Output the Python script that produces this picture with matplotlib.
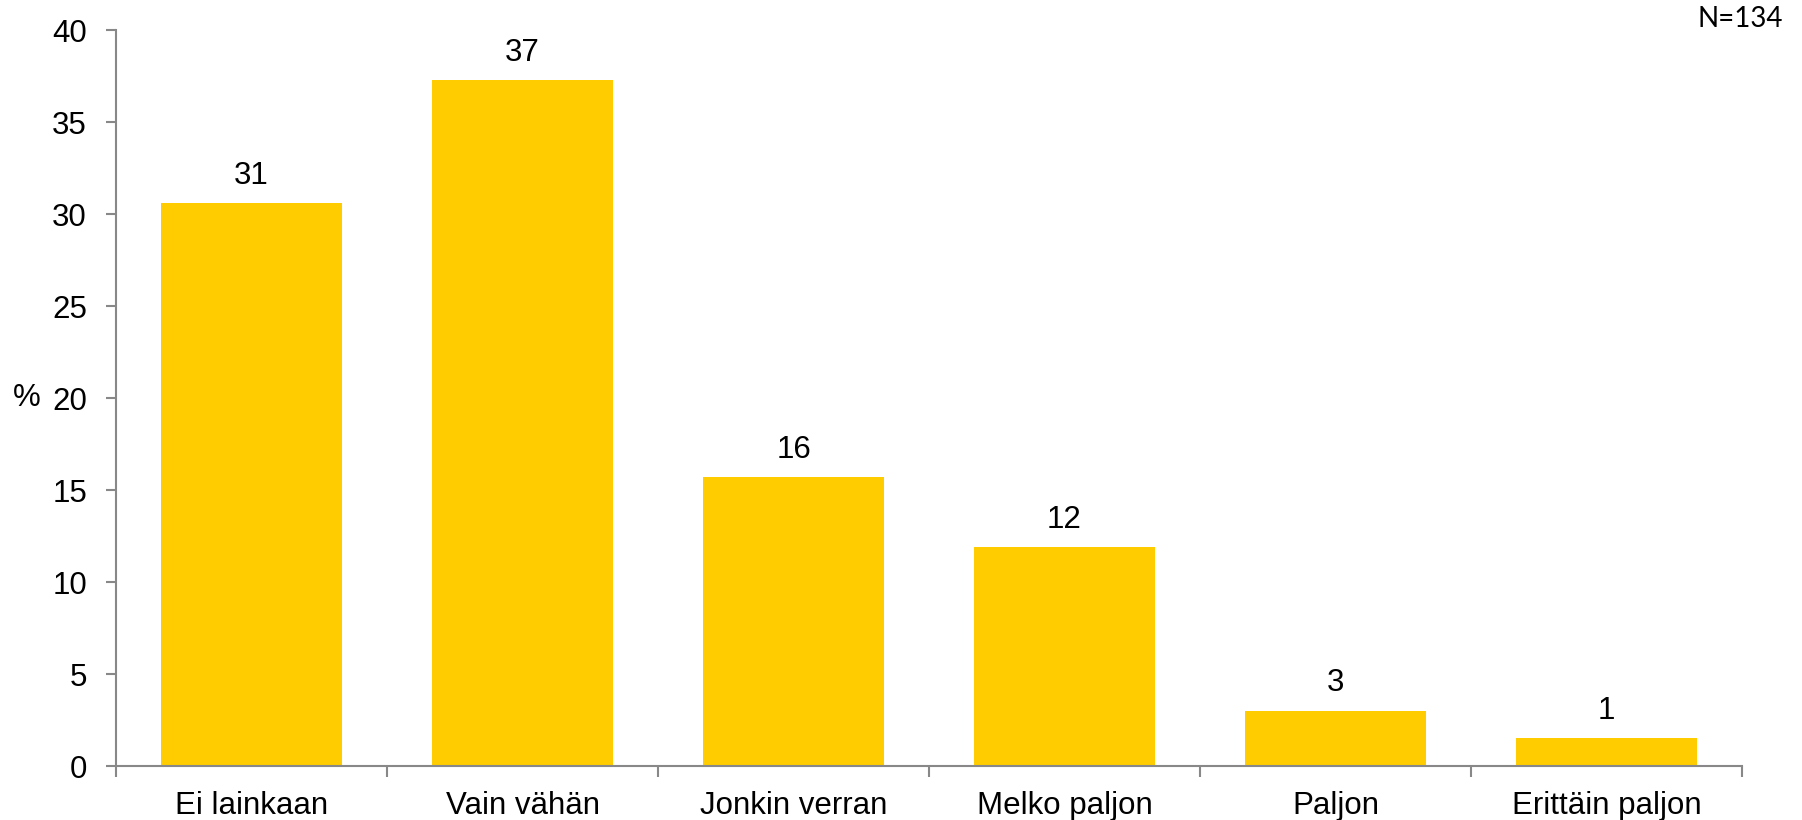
import numpy as np
import matplotlib.pyplot as plt

plt.rcParams['font.family'] = ['Liberation Sans', 'DejaVu Sans']

categories = ['Ei lainkaan', 'Vain vähän', 'Jonkin verran', 'Melko paljon', 'Paljon', 'Erittäin paljon']
values = [30.6, 37.3, 15.7, 11.9, 3.0, 1.5]
labels = ['31', '37', '16', '12', '3', '1']
n_text = 'N=134'

fs = 22.5

fig = plt.figure(figsize=(18.02, 8.203), dpi=100)
ax = fig.add_axes([0.0644, 0.066, 0.9023, 0.897])

x = np.arange(len(categories))
bars = ax.bar(x, values, width=0.667, color='#FFCC00', zorder=2)
for b, lab in zip(bars, labels):
    ax.annotate(lab, (b.get_x() + b.get_width() / 2, b.get_height()),
                xytext=(0, 9), textcoords='offset points',
                ha='center', va='bottom', fontsize=fs)

ax.set_xlim(-0.5, len(categories) - 0.5)
ax.set_ylim(0, 40)
ax.set_yticks(range(0, 41, 5))
ax.tick_params(axis='y', labelsize=fs, length=7, width=1.5, color='#888888', pad=14)

# category names centred, ticks between categories
ax.set_xticks(x)
ax.set_xticklabels(categories, fontsize=fs)
ax.tick_params(axis='x', which='major', length=0, pad=18)
ax.set_xticks(np.arange(-0.5, len(categories)), minor=True)
ax.tick_params(axis='x', which='minor', length=8, width=1.5, color='#888888')

for s in ['top', 'right']:
    ax.spines[s].set_visible(False)
for s in ['left', 'bottom']:
    ax.spines[s].set_color('#888888')
    ax.spines[s].set_linewidth(1.5)

ax.set_ylabel('%', fontsize=fs, rotation=0, va='center')
ax.yaxis.set_label_coords(-0.055, 0.5)

fig.text(0.9895, 0.967, n_text, ha='right', va='baseline', fontsize=20, family=['Lato', 'DejaVu Sans'])

fig.savefig('out.png', dpi=100)
